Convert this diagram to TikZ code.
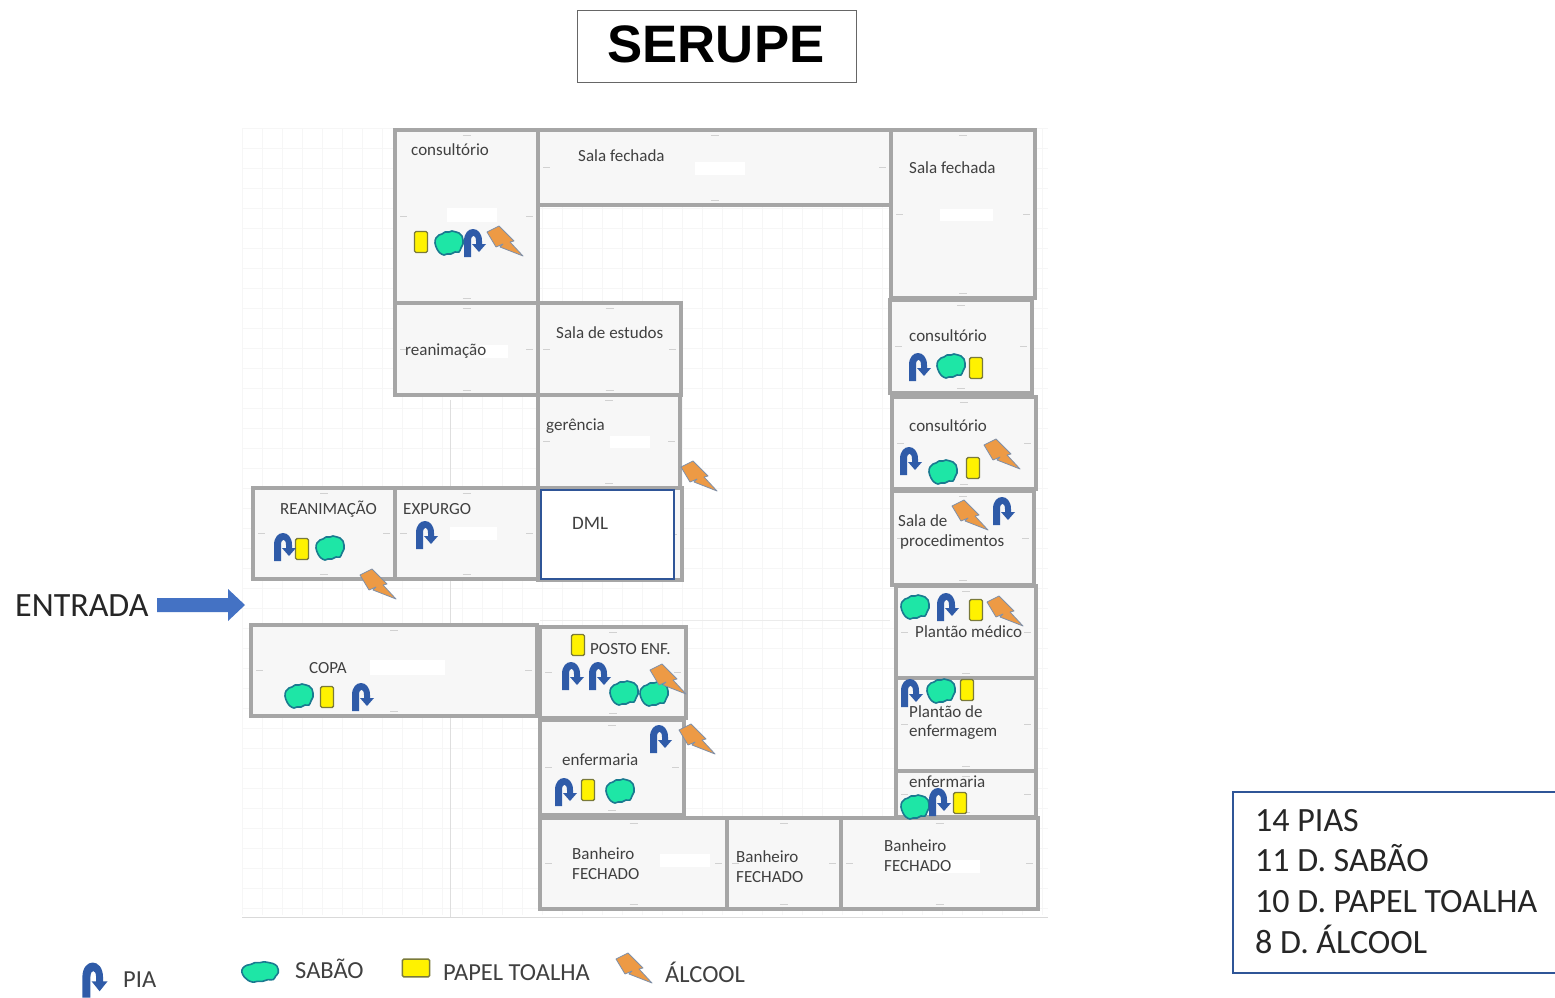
\documentclass[tikz,border=0pt]{standalone}
\usepackage{fontspec}
\setmainfont{Carlito}
\newfontfamily\titlefont{Liberation Sans}
\definecolor{wall}{HTML}{A6A6A6}
\definecolor{roomfill}{HTML}{F7F7F7}
\definecolor{gridc}{HTML}{F6F6F6}
\definecolor{piac}{HTML}{2F5BA8}
\definecolor{boxblue}{HTML}{2F5597}
\definecolor{arrowblue}{HTML}{4472C4}
\definecolor{txt}{HTML}{404040}
\definecolor{sabfill}{HTML}{1EE6A6}
\definecolor{sabedge}{HTML}{1A7A90}
\definecolor{toafill}{HTML}{FFF200}
\definecolor{toaedge}{HTML}{7A7A3A}
\definecolor{alcfill}{HTML}{ED9A45}
\definecolor{alcedge}{HTML}{8090A8}
\tikzset{
  x=1pt,y=-1pt,
  room/.style={draw=wall,line width=3.6pt,fill=roomfill},
  tick/.style={draw=black!18,line width=.8pt},
  patch/.style={fill=white,draw=none},
  lab/.style={anchor=west,inner sep=0pt,font=\fontsize{17}{17}\selectfont,text=txt,align=left},
  leg/.style={anchor=base west,inner sep=0pt,font=\fontsize{24.5}{24.5}\selectfont,text=txt},
  big/.style={anchor=base west,inner sep=0pt,font=\fontsize{34}{34}\selectfont,text=black!85},
  pia/.pic={\fill[piac] (-11,14)--(-11,-2) .. controls (-11,-18) and (7,-18) .. (7,-2) -- (7,1) -- (11,1) -- (4,9) -- (-3,1) -- (1,1) -- (1,-2) .. controls (1,-9) and (-4,-9) .. (-4,-2) -- (-4,14) -- cycle;},
  sabao/.pic={\draw[draw=sabedge,line width=1.6pt,fill=sabfill,line join=round]
    plot[smooth cycle,tension=.6] coordinates {(-14,0)(-13,-5)(-10,-8)(-7,-9)(-4,-11)(0,-11)(3,-12)(7,-11)(10,-10)(13,-7)(14,-3)(14,1)(12,5)(10,9)(6,9)(2,11)(-2,11)(-5,12)(-9,10)(-12,6)};},
  toalha/.pic={\draw[draw=toaedge,line width=1.4pt,fill=toafill,rounded corners=1.5pt] (-6.5,-10.5) rectangle (6.5,10.5);},
  alcool/.pic={\draw[draw=alcedge,line width=.8pt,fill=alcfill,line join=round]
    (-18,-9)--(-6,-15)--(9,0)--(5,1)--(18,15)--(-5,6)--(-2,3)--(-9,6)--cycle;},
}
\begin{document}
\begin{tikzpicture}
\useasboundingbox (0,0) rectangle (1555,998);
\fill[white] (0,0) rectangle (1555,998);
% faint grid
\foreach \x in {242,262,...,1042} \draw[gridc,line width=.6pt] (\x,128)--(\x,915);
\foreach \y in {128,148,...,908} \draw[gridc,line width=.6pt] (242,\y)--(1048,\y);
\draw[black!13,line width=1pt] (450,400)--(450,917);
\draw[black!15,line width=1pt] (242,917)--(1048,917);
\draw[black!8,line width=1pt] (540,620)--(890,620);
% title
\draw[black!60,line width=.8pt] (577,10) rectangle (856,82);
\node[inner sep=0pt,font=\titlefont\bfseries\fontsize{52.7}{52.7}\selectfont,text=black] (title) at (716,44) {SERUPE};
% rooms
\foreach \a/\b/\c/\d in {
 395/130/538/303, 538/130/891/205, 891/130/1035/298,
 395/303/538/395, 538/303/681/395, 538/395/680/488, 538/488/682/580,
 253/488/395/579, 395/488/538/579, 251/625/537/716,
 540/627/686/718, 540/720/684/815,
 890/300/1032/393, 892/397/1036/489, 892/491/1034/585,
 896/586/1036/678, 896/678/1036/771, 896/771/1036/817,
 540/818/727/909, 727/818/841/909, 841/818/1038/909}{
  \draw[room] (\a,\b) rectangle (\c,\d);
  \pgfmathsetmacro{\cx}{(\a+\c)/2}
  \pgfmathsetmacro{\cy}{(\b+\d)/2}
  \draw[tick] (\cx-4,\b+5)--(\cx+4,\b+5);
  \draw[tick] (\cx-4,\d-5)--(\cx+4,\d-5);
  \draw[tick] (\a+5,\cy)--(\a+12,\cy);
  \draw[tick] (\c-12,\cy)--(\c-5,\cy);
}
\draw[boxblue,line width=2pt,fill=white] (541,490) rectangle (674,579);
% erased patches
\foreach \a/\b/\c/\d in {
 447/208/497/222, 695/162/745/175, 940/209/993/221, 480/345/508/358,
 610/436/650/448, 450/527/497/540, 370/660/445/675, 660/854/710/867,
 930/860/980/873, 600/525/640/535}
  \fill[patch] (\a,\b) rectangle (\c,\d);
% labels
\node[lab] (l1) at (411,150) {consultório};
\node[lab] (l2) at (578,156) {Sala fechada};
\node[lab] (l3) at (909,168) {Sala fechada};
\node[lab] (l4) at (405,351) {reanimação};
\node[lab] (l5) at (556,333) {Sala de estudos};
\node[lab] (l6) at (546,426) {gerência};
\node[lab,font=\fontsize{19}{19}\selectfont] (l7) at (572,523) {DML};
\node[lab] (l8) at (280,509) {REANIMAÇÃO};
\node[lab] (l9) at (403,509) {EXPURGO};
\node[lab] (l10) at (309,668) {COPA};
\node[lab] (l11) at (590,649) {POSTO ENF.};
\node[lab] (l12) at (562,760) {enfermaria};
\node[lab] (l13) at (909,336) {consultório};
\node[lab] (l14) at (909,426) {consultório};
\node[lab] (l15a) at (898,521) {Sala de};
\node[lab] (l15b) at (900,542) {procedimentos};
\node[lab] (l16) at (915,632) {Plantão médico};
\node[lab] (l17a) at (909,712) {Plantão de};
\node[lab] (l17b) at (909,732) {enfermagem};
\node[lab] (l18) at (909,782) {enfermaria};
\node[lab] (l19a) at (572,854) {Banheiro};
\node[lab] (l19b) at (572,874) {FECHADO};
\node[lab] (l20a) at (736,857) {Banheiro};
\node[lab] (l20b) at (736,877) {FECHADO};
\node[lab] (l21a) at (884,846) {Banheiro};
\node[lab] (l21b) at (884,866) {FECHADO};
% icons
\foreach \x/\y in {421/242,976/368,973/468,976/610,967/690,960/803,578/645,588/790,302/549,327/697}
  \pic at (\x,\y) {toalha};
\foreach \x/\y in {449/243,951/366,943/472,915/607,941/691,915/807,624/693,654/694,620/791,330/548,299/696}
  \pic at (\x,\y) {sabao};
\foreach \x/\y in {475/243,920/367,911/461,1004/511,948/607,912/693,940/802,573/676,600/676,661/739,566/792,427/535,285/547,363/697}
  \pic at (\x,\y) {pia};
\foreach \x/\y in {505/241,699/476,1002/454,970/515,1005/611,668/679,697/739,378/584}
  \pic at (\x,\y) {alcool};
% entrada
\node[big] (entrada) at (15,616) {ENTRADA};
\coordinate (arrowstart) at (157,605);
\fill[arrowblue] (arrowstart) ++(0,-7) -- ++(71,0) -- ++(0,-9) -- ++(17,16) -- ++(-17,16) -- ++(0,-9) -- ++(-71,0) -- cycle;
% legend
\pic[xscale=1.15,yscale=1.25] at (95,980) {pia};
\node[leg] (lpia) at (123,987) {PIA};
\pic[xscale=1.3,yscale=.85] at (260,972) {sabao};
\node[leg] (lsab) at (295,978) {SABÃO};
\pic[xscale=2.1,yscale=.85] at (416,968) {toalha};
\node[leg] (lpap) at (443,980) {PAPEL TOALHA};
\pic at (634,968) {alcool};
\node[leg] (lalc) at (665,982) {ÁLCOOL};
% count box
\draw[boxblue,line width=1.4pt,fill=white] (1233,792) rectangle (1560,973);
\node[big] (c1) at (1255,831) {14 PIAS};
\node[big] (c2) at (1255,871) {11 D. SABÃO};
\node[big] (c3) at (1255,912) {10 D. PAPEL TOALHA};
\node[big] (c4) at (1255,953) {8 D. ÁLCOOL};
\end{tikzpicture}
\end{document}
